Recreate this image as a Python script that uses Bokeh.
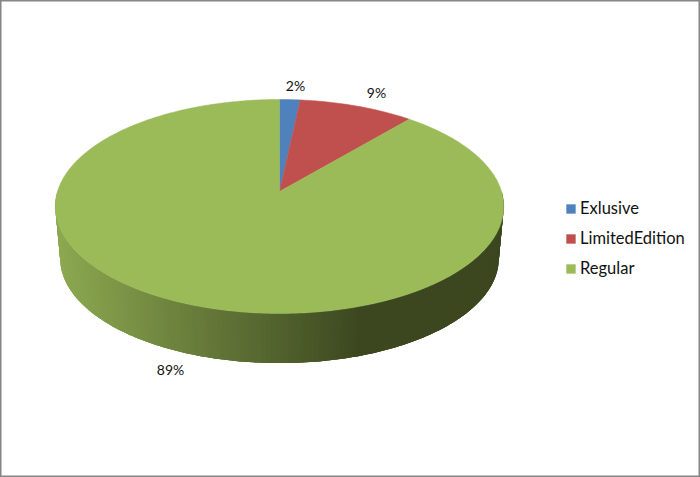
import numpy as np
from bokeh.plotting import figure
from bokeh.models import Range1d, Legend, LegendItem
from bokeh.core.properties import value
from bokeh.embed import file_html
from bokeh.resources import INLINE

categories = ["Exlusive", "LimitedEdition", "Regular"]
shares = [1.7, 9.49, 88.81]
colors = ["#4f81bd", "#c0504d", "#9bbb59"]
labels = [f"{round(s)}%" for s in shares]
label_x = [295, 376, 170]
label_y = [85, 92, 369]

W, H = 700, 477
FONT = "Lato"
cx, apex_y, ecy = 279.0, 191.0, 206.0
k, a, b = 0.14, 104.9, 222.0
wall_scale, wall_cy = 0.978, 258.0


def rim(theta):
    """Clockwise angle from 12 o'clock -> screen point of the tilted disc."""
    u, v = np.sin(theta), np.cos(theta)
    d = 1 + k * v
    return cx + b * u / d, apex_y - a * v / d


p = figure(width=W, height=H, output_backend="svg", toolbar_location=None,
           x_range=Range1d(0, W), y_range=Range1d(H, 0), min_border=0,
           x_axis_location=None, y_axis_location=None,
           background_fill_color="white", border_fill_color="white",
           outline_line_color="#868686", outline_line_width=2)
p.grid.visible = False
p.styles = {"position": "absolute", "left": "0px", "top": "0px"}

# side wall: strips painted left to right, each overlapping the next to hide seams
dark, light = np.array([0x3c, 0x47, 0x20]), np.array([0x8c, 0xa8, 0x50])
ts = np.linspace(np.pi / 2, 3 * np.pi / 2, 181)[::-1]
tx, ty = rim(ts)
bx = cx + (tx - cx) * wall_scale
by = wall_cy + (ty - ecy) * wall_scale
xs, ys, cs = [], [], []
for i in range(len(ts) - 1):
    j = min(i + 3, len(ts) - 1)
    xs.append([tx[i], *tx[i + 1:j + 1], *bx[i + 1:j + 1][::-1], bx[i]])
    ys.append([ty[i], *ty[i + 1:j + 1], *by[i + 1:j + 1][::-1], by[i]])
    f = np.clip(((tx[i] + tx[i + 1]) / 2 - 58) / (360 - 58), 0, 1)
    c = light + (dark - light) * f
    cs.append("#%02x%02x%02x" % tuple(int(round(q)) for q in c))
p.patches(xs, ys, fill_color=cs, line_color=None)

# top surface
edges = np.cumsum([0] + shares) / 100 * 2 * np.pi
slices = []
for i, cat in enumerate(categories):
    th = np.linspace(edges[i], edges[i + 1], max(4, int(shares[i] * 6)))
    rx, ry = rim(th)
    r = p.patch(np.r_[cx, rx], np.r_[apex_y, ry], fill_color=colors[i],
                line_color=colors[i], line_width=0.5)
    slices.append(r)

p.text(label_x, label_y, text=labels, text_font=value(FONT), text_font_size="14px",
       text_color="#111111", text_align="center", text_baseline="middle")

legend = Legend(items=[LegendItem(label=c, renderers=[r]) for c, r in zip(categories, slices)],
                location=(565, 199), orientation="vertical",
                glyph_width=11, glyph_height=11, spacing=10, padding=0, margin=0,
                label_standoff=4, label_height=11,
                label_text_font=FONT, label_text_font_size="16.5px", label_text_color="#111111",
                background_fill_alpha=0, border_line_color=None)
p.add_layout(legend)

open("out.html", "w").write(file_html(p, INLINE))
